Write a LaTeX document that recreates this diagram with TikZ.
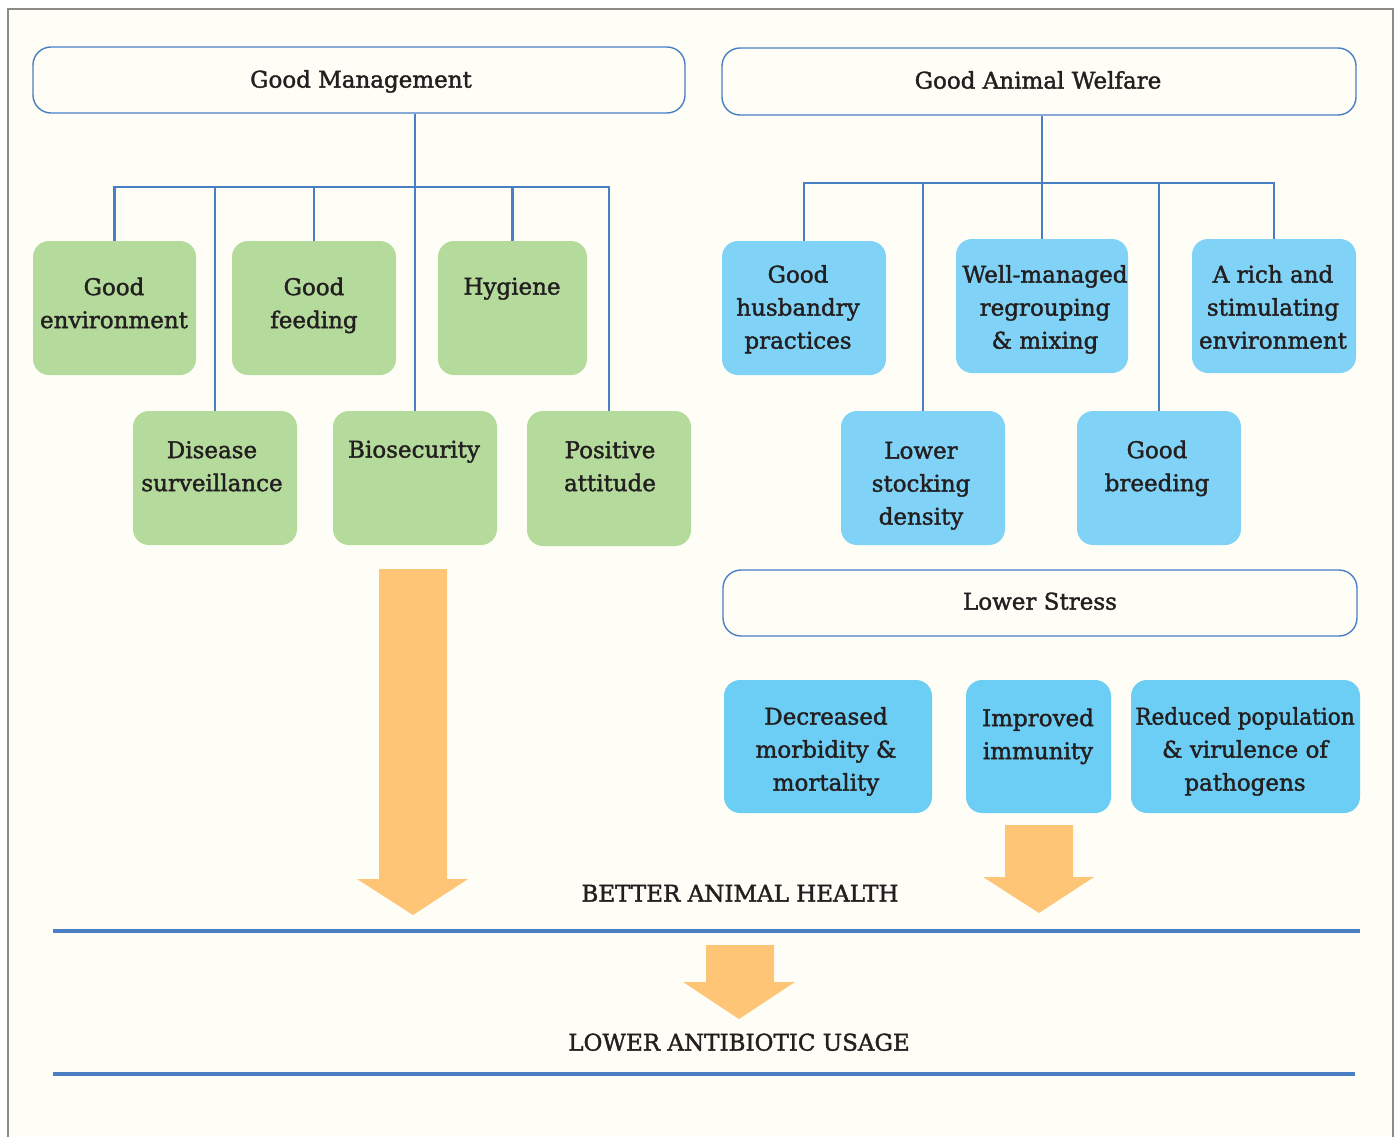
\documentclass[tikz,border=0pt]{standalone}
\usepackage{fontspec}
\setmainfont[FakeBold=1.6]{DejaVu Serif}
\newfontfamily\narrowfont[FakeBold=1.6,FakeStretch=0.94]{DejaVu Serif}
\definecolor{lineblue}{HTML}{4A7EC5}
\definecolor{gfill}{HTML}{B5DB9C}
\definecolor{lbfill}{HTML}{80D3F6}
\definecolor{cbfill}{HTML}{6DCEF5}
\definecolor{orfill}{HTML}{FEC577}
\definecolor{bgcol}{HTML}{FEFEF6}
\definecolor{inkcol}{HTML}{231F20}
\definecolor{framegray}{HTML}{8A8A86}
\begin{document}
\begin{tikzpicture}[x=1pt,y=-1pt,
  wbox/.style={draw=lineblue, line width=1.4pt, fill=bgcol, rounded corners=18pt, inner sep=0pt},
  gbox/.style={fill=gfill, rounded corners=16pt, inner sep=0pt},
  bbox/.style={fill=lbfill, rounded corners=16pt, inner sep=0pt},
  cbox/.style={fill=cbfill, rounded corners=16pt, inner sep=0pt},
  txt/.style={font=\fontsize{23}{33}\selectfont, align=center, inner sep=0pt, text=inkcol},
  conn/.style={draw=lineblue, line width=2.8pt},
  sepline/.style={draw=lineblue, line width=3.5pt},
  bigarrow/.style={fill=orfill}]
\useasboundingbox (0,0) rectangle (1400,1137);
\fill[white] (0,0) rectangle (1400,1137);
\draw[framegray, fill=bgcol, line width=1.2pt] (8,9) rectangle (1393,1150);

% top boxes
\node[wbox, minimum width=652pt, minimum height=66pt] (gm) at (359,80) {};
\node[txt] (gmt) at (361,81) {\strut Good Management};
\node[wbox, minimum width=634pt, minimum height=67pt] (gaw) at (1039,81.5) {};
\node[txt] (gawt) at (1038,82) {\strut Good Animal Welfare};

% green boxes
\node[gbox, minimum width=163pt, minimum height=134pt] (ge) at (114.5,308) {};
\node[gbox, minimum width=164pt, minimum height=134pt] (gf) at (314,308) {};
\node[gbox, minimum width=149pt, minimum height=134pt] (hy) at (512.5,308) {};
\node[gbox, minimum width=164pt, minimum height=134pt] (ds) at (215,478) {};
\node[gbox, minimum width=164pt, minimum height=134pt] (bs) at (415,478) {};
\node[gbox, minimum width=164pt, minimum height=135pt] (pa) at (609,478.5) {};
\node[txt] (get) at (114,305) {\strut Good\\\strut environment};
\node[txt] (gft) at (314,305) {\strut Good\\\strut feeding};
\node[txt] (hyt) at (512,288) {\strut Hygiene};
\node[txt] (dst) at (212,468) {\strut Disease\\\strut surveillance};
\node[txt] (bst) at (414,451) {\strut Biosecurity};
\node[txt] (pat) at (610,468) {\strut Positive\\\strut attitude};

% blue boxes
\node[bbox, minimum width=164pt, minimum height=134pt] (gh) at (804,308) {};
\node[bbox, minimum width=172pt, minimum height=134pt] (wm) at (1042,306) {};
\node[bbox, minimum width=164pt, minimum height=134pt] (ar) at (1274,306) {};
\node[bbox, minimum width=164pt, minimum height=134pt] (ls) at (923,478) {};
\node[bbox, minimum width=164pt, minimum height=134pt] (gb) at (1159,478) {};
\node[txt] (ght) at (798,309) {\strut Good\\\strut husbandry\\\strut practices};
\node[txt] (wmt) at (1045,309) {\strut Well-managed\\\strut regrouping\\\strut \& mixing};
\node[txt] (art) at (1273,309) {\strut A rich and\\\strut stimulating\\\strut environment};
\node[txt] (lst) at (921,485) {\strut Lower\\\strut stocking\\\strut density};
\node[txt] (gbt) at (1157,468) {\strut Good\\\strut breeding};

% lower stress
\node[wbox, minimum width=634pt, minimum height=66pt] (lsw) at (1040,603) {};
\node[txt] (lswt) at (1040,603) {\strut Lower Stress};

% outcome boxes
\node[cbox, minimum width=208pt, minimum height=133pt] (dm) at (828,746.5) {};
\node[cbox, minimum width=145pt, minimum height=133pt] (ii) at (1038.5,746.5) {};
\node[cbox, minimum width=229pt, minimum height=133pt] (rp) at (1245.5,746.5) {};
\node[txt] (dmt) at (826,751) {\strut Decreased\\\strut morbidity \&\\\strut mortality};
\node[txt] (iit) at (1038,736) {\strut Improved\\\strut immunity};
\node[txt] (rpt) at (1245,751) {\narrowfont\strut Reduced population\\\strut \& virulence of\\\strut pathogens};

% left tree
\coordinate (barL) at (414,187);
\draw[conn] (bs.north |- gm.south) -- (bs.north);
\draw[conn] (ge.north) -- (ge.north |- barL) -- (pa.north |- barL) -- (pa.north);
\draw[conn] (ds.north |- barL) -- (ds.north);
\draw[conn] (gf.north |- barL) -- (gf.north);
\draw[conn] (hy.north |- barL) -- (hy.north);

% right tree
\coordinate (barR) at (1041,183);
\draw[conn] (wm.north |- gaw.south) -- (wm.north);
\draw[conn] (gh.north) -- (gh.north |- barR) -- (ar.north |- barR) -- (ar.north);
\draw[conn] (ls.north |- barR) -- (ls.north);
\draw[conn] (gb.north |- barR) -- (gb.north);

% arrows
\fill[bigarrow] (379,569) -- (447,569) -- (447,879) -- (468,879) -- (413,915) -- (357,879) -- (379,879) -- cycle;
\fill[bigarrow] (1005,825) -- (1073,825) -- (1073,877) -- (1094,877) -- (1039,913) -- (983,877) -- (1005,877) -- cycle;
\fill[bigarrow] (706,945) -- (774,945) -- (774,982) -- (795,982) -- (739,1019) -- (683,982) -- (706,982) -- cycle;

% outcomes
\node[txt] (bah) at (740,895) {\strut BETTER ANIMAL HEALTH};
\coordinate (s1a) at (53,931);
\coordinate (s1b) at (1360,931);
\draw[sepline] (s1a) -- (s1b);
\node[txt] (lau) at (739,1044) {\strut LOWER ANTIBIOTIC USAGE};
\coordinate (s2a) at (53,1074);
\coordinate (s2b) at (1355,1074);
\draw[sepline] (s2a) -- (s2b);
\end{tikzpicture}
\end{document}
